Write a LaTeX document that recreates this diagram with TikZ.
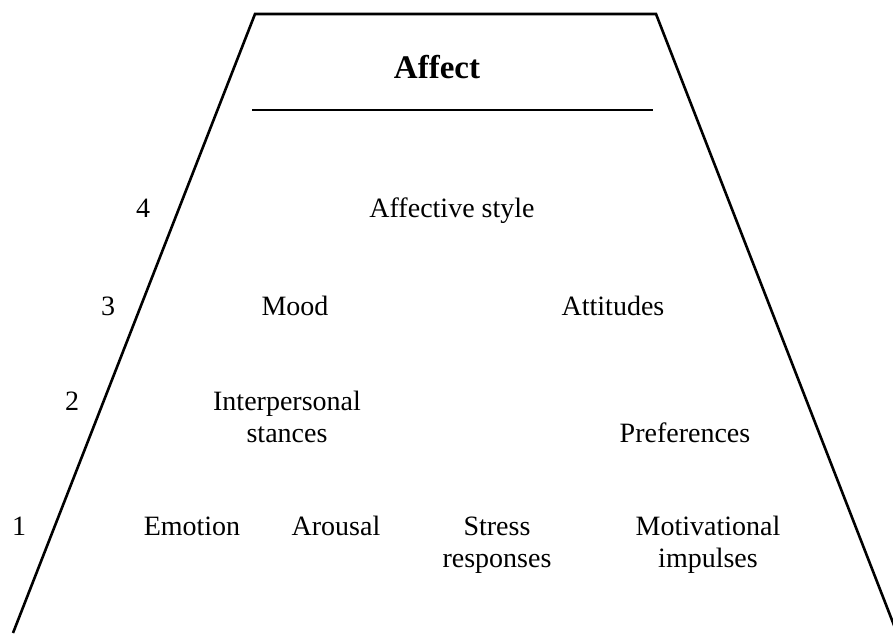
\documentclass[tikz,border=0pt]{standalone}
\usepackage{fontspec}
\setmainfont{Liberation Serif}

\begin{document}
\begin{tikzpicture}[x = 0.5pt, y = -0.5pt, line width = 1.3pt,
	label/.style = {anchor = base, align = center, inner sep = 0pt,
		font = \fontsize{14}{16}\selectfont}]

	% Bounding box (pixels of the reference, y going down)

	\useasboundingbox (0, 0) rectangle (893, 633);

	% Trapezoid

	\coordinate (top-left) at (255, 14);
	\coordinate (top-right) at (656, 14);
	\coordinate (bottom-left) at (13, 633);
	\coordinate (bottom-right) at (897, 633);

	\draw [line join = miter] (bottom-left) -- (top-left) -- (top-right) -- (bottom-right);

	% Heading and rule

	\node [label, font = \fontsize{16.5}{18}\selectfont\bfseries] (affect) at (437, 78) {Affect};

	\coordinate (rule-left) at (252, 110);
	\coordinate (rule-right) at (653, 110);
	\draw (rule-left) -- (rule-right);

	% Level numbers

	\foreach \n/\x/\y in {4/143/217, 3/108/315, 2/72/410, 1/19/535}
		\node [label] (level-\n) at (\x, \y) {\n};

	% Level 4 and 3

	\node [label] (style) at (452, 217) {Affective style};
	\node [label] (mood) at (295, 315) {Mood};
	\node [label] (attitudes) at (613, 315) {Attitudes};

	% Level 2 (base anchor sits on the last line)

	\node [label] (stances) at (287, 442) {Interpersonal\\stances};
	\node [label] (preferences) at (685, 442) {Preferences};

	% Level 1

	\node [label] (emotion) at (192, 535) {Emotion};
	\node [label] (arousal) at (336, 535) {Arousal};
	\node [label] (stress) at (497, 567) {Stress\\responses};
	\node [label] (impulses) at (708, 567) {Motivational\\impulses};

\end{tikzpicture}
\end{document}
